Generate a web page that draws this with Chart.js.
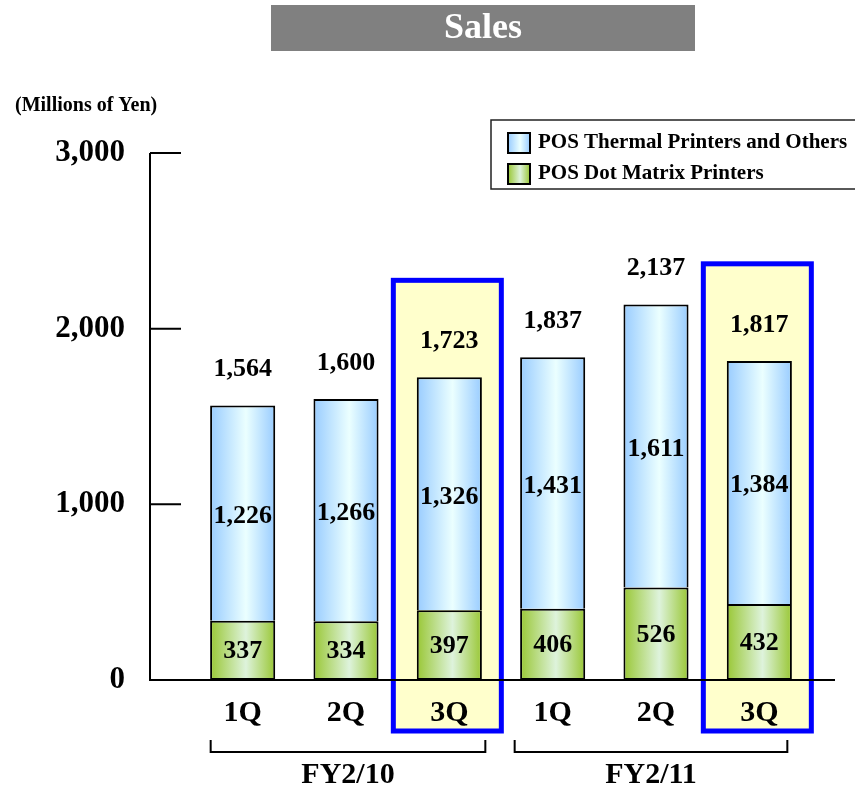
<!DOCTYPE html>
<html>
<head>
<meta charset="utf-8">
<script src="https://cdn.jsdelivr.net/npm/chart.js@4"></script>
<style>
  html, body { margin: 0; padding: 0; background: #fff; }
  canvas { display: block; }
</style>
</head>
<body>
<canvas id="sales-chart" width="855" height="795"></canvas>
<script>
const quarters = ['1Q', '2Q', '3Q', '1Q', '2Q', '3Q']
const fiscalYears = ['FY2/10', 'FY2/11']
const dotMatrix = [337, 334, 397, 406, 526, 432]
const thermal = [1226, 1266, 1326, 1431, 1611, 1384]
const totals = [1564, 1600, 1723, 1837, 2137, 1817]
const currentQuarters = [2, 5]
const yTicks = [0, 1000, 2000, 3000]
const seriesNames = ['POS Thermal Printers and Others', 'POS Dot Matrix Printers']

const SERIF = '"Liberation Serif", "Times New Roman", serif'
const BAR_PCT = 0.63
const AXIS_X = 150

const fmt = (v) => v.toLocaleString('en-US')

function barGradient(edge, mid) {
    return (ctx) => {
        const chart = ctx.chart
        const xs = chart.scales && chart.scales.x
        if (ctx.type !== 'data' || !xs || !chart.chartArea) return edge
        const cx = xs.getPixelForValue(ctx.dataIndex)
        const half = (xs.width / quarters.length) * BAR_PCT / 2
        const g = chart.ctx.createLinearGradient(cx - half, 0, cx + half, 0)
        g.addColorStop(0, edge)
        g.addColorStop(0.55, mid)
        g.addColorStop(1, edge)
        return g
    }
}

const BLUE_EDGE = '#99ccff', BLUE_MID = '#ebffff'
const GREEN_EDGE = '#99c735', GREEN_MID = '#def3dc'

// everything around the bars: title, highlight frames, axes, labels, legend
const decorations = {
    id: 'decorations',
    beforeDraw(chart) {
        const c = chart.ctx
        const xs = chart.scales.x, ys = chart.scales.y
        c.save()
        c.fillStyle = '#fff'
        c.fillRect(0, 0, chart.width, chart.height)

        // title bar
        c.fillStyle = '#808080'
        c.fillRect(271, 5, 424, 46)
        c.fillStyle = '#fff'
        c.font = 'bold 36px ' + SERIF
        c.textAlign = 'center'
        c.textBaseline = 'middle'
        c.fillText('Sales', 483, 29)

        // frames around the latest quarters
        currentQuarters.forEach((i) => {
            const cx = xs.getPixelForValue(i)
            const top = ys.getPixelForValue(totals[i]) - 97
            const left = cx - 56, right = cx + 52, bottom = 731
            c.fillStyle = '#ffffcc'
            c.fillRect(left, top, right - left, bottom - top)
            c.strokeStyle = '#0000ff'
            c.lineWidth = 5
            c.strokeRect(left, top, right - left, bottom - top)
        })
        c.restore()
    },
    afterDraw(chart) {
        const c = chart.ctx
        const xs = chart.scales.x, ys = chart.scales.y
        const y0 = ys.getPixelForValue(0)
        c.save()

        // axes with inward tick marks
        c.strokeStyle = '#000'
        c.lineWidth = 2
        c.beginPath()
        c.moveTo(AXIS_X, ys.getPixelForValue(3000))
        c.lineTo(AXIS_X, y0)
        c.lineTo(835, y0)
        yTicks.slice(1).forEach((v) => {
            const y = ys.getPixelForValue(v)
            c.moveTo(AXIS_X, y)
            c.lineTo(181, y)
        })
        c.stroke()

        // value labels
        c.fillStyle = '#000'
        c.font = 'bold 26px ' + SERIF
        c.textAlign = 'center'
        c.textBaseline = 'middle'
        const green = chart.getDatasetMeta(0).data
        const blue = chart.getDatasetMeta(1).data
        quarters.forEach((q, i) => {
            const gb = green[i], bb = blue[i]
            c.fillText(fmt(dotMatrix[i]), gb.x, (gb.y + gb.base) / 2 + 1)
            c.fillText(fmt(thermal[i]), bb.x, (bb.y + bb.base) / 2 + 3)
            c.fillText(fmt(totals[i]), bb.x, ys.getPixelForValue(totals[i]) - 36)
        })

        // unit label
        c.textAlign = 'left'
        c.font = 'bold 20px ' + SERIF
        c.fillText('(Millions of Yen)', 15, 106)

        // legend
        c.strokeStyle = '#222'
        c.lineWidth = 1.5
        c.strokeRect(491, 120, 380, 69)
        const swatches = [[BLUE_EDGE, BLUE_MID], [GREEN_EDGE, GREEN_MID]]
        seriesNames.forEach((name, k) => {
            const sy = 133 + k * 31
            const g = c.createLinearGradient(508, 0, 530, 0)
            g.addColorStop(0, swatches[k][0])
            g.addColorStop(0.55, swatches[k][1])
            g.addColorStop(1, swatches[k][0])
            c.fillStyle = g
            c.fillRect(508, sy, 22, 20)
            c.strokeStyle = '#000'
            c.lineWidth = 2
            c.strokeRect(508, sy, 22, 20)
            c.fillStyle = '#000'
            c.font = 'bold 21px ' + SERIF
            c.textBaseline = 'middle'
            c.fillText(name, 538, sy + 10)
        })

        // fiscal year brackets
        const groups = [[0, 2], [3, 5]]
        const pads = [[-32, 36], [-38, 28]]
        c.strokeStyle = '#000'
        c.lineWidth = 2
        c.font = 'bold 30px ' + SERIF
        c.textAlign = 'center'
        groups.forEach(([a, b], k) => {
            const l = xs.getPixelForValue(a) + pads[k][0]
            const r = xs.getPixelForValue(b) + pads[k][1]
            c.beginPath()
            c.moveTo(l, 740)
            c.lineTo(l, 752)
            c.lineTo(r, 752)
            c.lineTo(r, 740)
            c.stroke()
            c.fillText(fiscalYears[k], (l + r) / 2, 775)
        })
        c.restore()
    }
}

const chart = new Chart(document.getElementById('sales-chart'), {
    type: 'bar',
    data: {
        labels: quarters,
        datasets: [
            {
                label: seriesNames[1],
                data: dotMatrix,
                backgroundColor: barGradient(GREEN_EDGE, GREEN_MID),
                borderColor: '#000',
                borderWidth: 2,
                borderSkipped: false
            },
            {
                label: seriesNames[0],
                data: thermal,
                backgroundColor: barGradient(BLUE_EDGE, BLUE_MID),
                borderColor: '#000',
                borderWidth: 2,
                borderSkipped: 'start'
            }
        ]
    },
    options: {
        responsive: false,
        animation: false,
        devicePixelRatio: 1,
        layout: { padding: { top: 153, right: 44, left: 0, bottom: 0 } },
        datasets: { bar: { categoryPercentage: 1, barPercentage: BAR_PCT } },
        plugins: { legend: { display: false }, tooltip: { enabled: false } },
        scales: {
            x: {
                stacked: true,
                grid: { display: false, drawTicks: false },
                border: { display: false },
                ticks: { color: '#000', padding: 15, font: { family: SERIF, size: 30, weight: 'bold' } },
                afterFit: (s) => { s.height = 115 }
            },
            y: {
                stacked: true,
                min: 0,
                max: 3000,
                grid: { display: false, drawTicks: false },
                border: { display: false },
                ticks: {
                    stepSize: 1000,
                    color: '#000',
                    padding: 66,
                    font: { family: SERIF, size: 31, weight: 'bold' },
                    callback: (v) => fmt(v)
                },
                afterFit: (s) => { s.width = 191 }
            }
        }
    },
    plugins: [decorations]
})
</script>
</body>
</html>
